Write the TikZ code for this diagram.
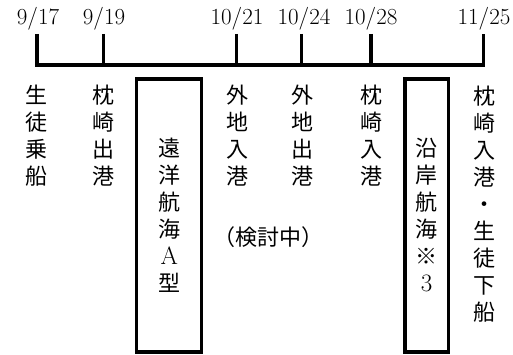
\documentclass[tikz,border=0pt]{standalone}
\usepackage{fontspec}
\usepackage{tikz}
\newfontfamily\jp{Noto Sans CJK JP}

\tikzset{
  day/.style={anchor=base, inner sep=0pt, font=\fontsize{23}{23}\selectfont},
  tate/.style={align=center, inner sep=0pt, font=\jp\fontsize{22}{27}\selectfont},
  voyage/.style={tate, draw, minimum height=273}
}
\newcommand{\han}[1]{{\rmfamily\fontsize{25}{27}\selectfont #1}}

\begin{document}
\begin{tikzpicture}[x=1pt, y=-1pt, line width=3.2pt]
        \useasboundingbox (0, 0) rectangle (513, 355);

        % dates
        \node[day](d1) at (38,    25) {9/17};
        \node[day](d2) at (104,   25) {9/19};
        \node[day](d3) at (237,   25) {10/21};
        \node[day](d4) at (304,   25) {10/24};
        \node[day](d5) at (371,   25) {10/28};
        \node[day](d6) at (484,   25) {11/25};

        \coordinate(s1) at (37,    34);
        \coordinate(s2) at (103.3, 34);
        \coordinate(s3) at (236.7, 34);
        \coordinate(s4) at (301.7, 34);
        \coordinate(s5) at (371,   34);
        \coordinate(s6) at (483.3, 34);
        \coordinate(b1) at (37,    65);
        \coordinate(b6) at (483.3, 65);

        \draw (s1) -- (b1) -- (b6) -- (s6);
        \draw (s2) -- (s2 |- b1);
        \draw (s3) -- (s3 |- b1);
        \draw (s4) -- (s4 |- b1);
        \draw (s5) -- (s5 |- b1);

        % events
        \node[tate](e1) at (36,  136) {生\\徒\\乗\\船};
        \node[tate](e2) at (103, 136) {枕\\崎\\出\\港};
        \node[tate](e3) at (237, 136) {外\\地\\入\\港};
        \node[tate](e4) at (302, 136) {外\\地\\出\\港};
        \node[tate](e5) at (371, 136) {枕\\崎\\入\\港};
        \node[tate](e6) at (484, 204) {枕\\崎\\入\\港\\・\\生\\徒\\下\\船};

        \node[voyage, minimum width=65](v1)   at (169.2, 215.5) {遠\\洋\\航\\海\\\han{A}\\型};
        \node[voyage, minimum width=43.3](v2) at (426.7, 215.5) {沿\\岸\\航\\海\\※\\\han{3}};

        \node[tate](tbd) at (268, 237) {（検討中）};
      \end{tikzpicture}
\end{document}
